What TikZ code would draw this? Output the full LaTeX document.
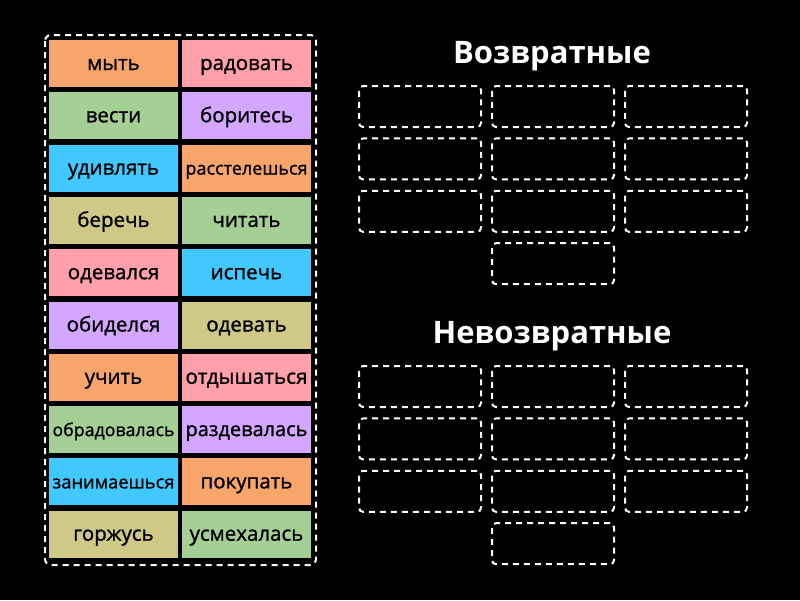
\documentclass[tikz,border=0pt]{standalone}
\usepackage{fontspec}
\setmainfont{Open Sans}
\newfontface\tilefont[RawFeature={embolden=1.2}]{Open Sans}
\usepackage{tikz}
\usetikzlibrary{backgrounds}
\definecolor{tileorange}{HTML}{F8A56C}
\definecolor{tilepink}{HTML}{FFA0AA}
\definecolor{tilegreen}{HTML}{A5CF95}
\definecolor{tilepurple}{HTML}{D3A7FF}
\definecolor{tilecyan}{HTML}{40C8FF}
\definecolor{tileolive}{HTML}{CFC886}
\newcommand{\fitword}[1]{\resizebox{122pt}{!}{#1}}

\begin{document}
\begin{tikzpicture}[x=1pt,y=-1pt,
  tile/.style={minimum width=129pt,minimum height=47pt,inner sep=0pt,
    text height=17pt,text depth=4pt,
    font=\tilefont\fontsize{20.5}{24}\selectfont,text=black},
  slot/.style={draw=white,line width=2pt,dash pattern=on 6pt off 5pt,
    rounded corners=4pt,minimum width=122pt,minimum height=41pt,inner sep=0pt},
  heading/.style={text=white,font=\fontsize{31}{36}\selectfont\bfseries}]
\fill[black] (0,0) rectangle (800,600);
\useasboundingbox (0,0) rectangle (800,600);
\draw[white,line width=2pt,dash pattern=on 6pt off 5pt,rounded corners=6pt]
  (45,35) rectangle (316,565);
% left column
\node[tile,fill=tileorange] (w1) at (113.5,63.5) {мыть};
\node[tile,fill=tilegreen] (w2) at (113.5,115.8) {вести};
\node[tile,fill=tilecyan] (w3) at (113.5,168.1) {удивлять};
\node[tile,fill=tileolive] (w4) at (113.5,220.4) {беречь};
\node[tile,fill=tilepink] (w5) at (113.5,272.7) {одевался};
\node[tile,fill=tilepurple] (w6) at (113.5,325) {обиделся};
\node[tile,fill=tileorange] (w7) at (113.5,377.3) {учить};
\node[tile,fill=tilegreen] (w8) at (113.5,429.6) {\fitword{обрадовалась}};
\node[tile,fill=tilecyan] (w9) at (113.5,481.9) {\fitword{занимаешься}};
\node[tile,fill=tileolive] (w10) at (113.5,534.2) {горжусь};
% right column
\node[tile,fill=tilepink] (v1) at (246.5,63.5) {радовать};
\node[tile,fill=tilepurple] (v2) at (246.5,115.8) {боритесь};
\node[tile,fill=tileorange] (v3) at (246.5,168.1) {\fitword{расстелешься}};
\node[tile,fill=tilegreen] (v4) at (246.5,220.4) {читать};
\node[tile,fill=tilecyan] (v5) at (246.5,272.7) {испечь};
\node[tile,fill=tileolive] (v6) at (246.5,325) {одевать};
\node[tile,fill=tilepink] (v7) at (246.5,377.3) {\fitword{отдышаться}};
\node[tile,fill=tilepurple] (v8) at (246.5,429.6) {\fitword{раздевалась}};
\node[tile,fill=tileorange] (v9) at (246.5,481.9) {покупать};
\node[tile,fill=tilegreen] (v10) at (246.5,534.2) {усмехалась};
% groups
\node[heading] (refl) at (552,56) {Возвратные};
\node[heading] (nonrefl) at (552,336) {Невозвратные};
\foreach \g/\top in {a/106.5,b/386.5}{
  \foreach \r in {0,1,2}{
    \foreach \c/\xc in {1/420,2/553,3/686}{
      \node[slot] (\g\r\c) at (\xc,\top+52.4*\r) {};
    }
  }
  \node[slot] (\g3) at (553,\top+157.2) {};
}
\end{tikzpicture}
\end{document}
